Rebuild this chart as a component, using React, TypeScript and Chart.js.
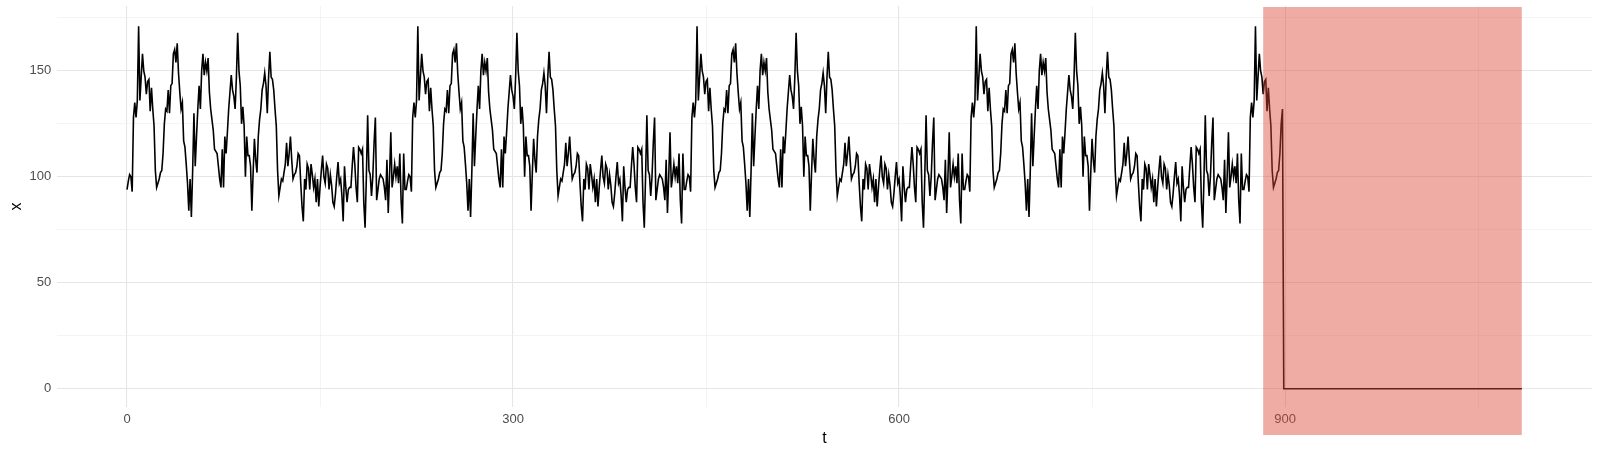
import React, { useEffect, useRef } from 'react';
import { Chart, registerables } from 'chart.js';

Chart.register(...registerables);

// One repeating cycle of the series x(t) (period 217)
const cycle: number[] = [
  94, 98, 101, 100, 93, 128, 135, 128, 136, 171,
  136, 147, 158, 150, 147, 139, 145, 146, 131, 142,
  132, 124, 103, 95, 97, 99, 102, 103, 111, 125,
  132, 131, 141, 130, 143, 144, 158, 160, 154, 163,
  149, 140, 132, 135, 117, 114, 106, 97, 84, 99,
  81, 103, 130, 105, 119, 132, 143, 132, 150, 158,
  148, 154, 150, 156, 140, 132, 127, 122, 113, 112,
  111, 105, 99, 95, 113, 95, 119, 111, 121, 132,
  140, 148, 141, 138, 132, 147, 168, 150, 143, 125,
  133, 124, 100, 119, 110, 110, 105, 84, 102, 118,
  108, 102, 119, 127, 132, 141, 144, 149, 143, 130,
  147, 159,
  147, 146, 141, 132, 124, 103, 91, 95, 99, 98,
  102, 106, 116, 105, 111, 119, 108, 99, 101, 102,
  105, 111, 110,
  97, 86, 79, 99, 94, 106, 104, 94, 106, 101,
  95, 99, 88, 99, 86, 95, 103, 110, 100, 97,
  106, 104, 94, 101, 96, 88, 86, 92, 100, 107,
  97, 99, 91, 79, 105, 95, 88, 94, 95, 95,
  105, 114, 106, 95, 88, 114, 113, 111, 113, 88,
  76, 100, 129, 103, 101, 91, 100, 116, 128, 89,
  94, 99, 101, 100, 99, 95, 89, 108, 83, 100,
  121, 95, 100, 106, 100, 105, 97, 111, 89, 78,
  111, 94,
];
const fullCycles = 4;
const partialCycleLength = 31; // t = 868 .. 898
const zeroTail: number[] = new Array(186).fill(0); // t = 899 .. 1084, flat at 0

const anomalyStart = 883;
const anomalyEnd = 1084;

const xGridValues = [0, 150, 300, 450, 600, 750, 900, 1050];
const xLabelValues = [0, 300, 600, 900];
const yGridValues = [0, 25, 50, 75, 100, 125, 150, 175];
const yLabelValues = [0, 50, 100, 150];
const xLimits = [-54.2, 1138.4];
const yLimits = [-8.6, 180.6];

const FONT = '"Liberation Sans", Arial, Helvetica, sans-serif';

function buildSeries() {
  const values: number[] = [];
  for (let c = 0; c < fullCycles; c++) values.push(...cycle);
  values.push(...cycle.slice(0, partialCycleLength));
  values.push(...zeroTail);
  return values.map((v, i) => ({ x: i, y: v }));
}

const anomalyPlugin = {
  id: 'anomalyRect',
  afterDraw(chart: any) {
    const { ctx, chartArea, scales } = chart;
    const x0 = scales.x.getPixelForValue(anomalyStart);
    const x1 = scales.x.getPixelForValue(anomalyEnd);
    const top = chartArea.top + 1;
    const bottom = chartArea.bottom + 28;
    ctx.save();
    ctx.fillStyle = 'rgba(220, 71, 56, 0.45)';
    ctx.fillRect(x0, top, x1 - x0, bottom - top);
    ctx.restore();
  },
};

export default function App() {
  const ref = useRef<HTMLCanvasElement | null>(null);

  useEffect(() => {
    document.body.style.margin = '0';
    const canvas = ref.current;
    if (!canvas) return;
    const gridColor = (isMajor: boolean) => (isMajor ? '#e6e6e6' : '#ededed');
    const chart = new Chart(canvas, {
      type: 'line',
      data: {
        datasets: [
          {
            data: buildSeries(),
            borderColor: '#000000',
            borderWidth: 1.6,
            pointRadius: 0,
            tension: 0,
            fill: false,
          },
        ],
      },
      options: {
        animation: false,
        responsive: false,
        events: [],
        layout: { padding: { left: 0, right: 8.2, top: 6, bottom: 0 } },
        plugins: {
          legend: { display: false },
          tooltip: { enabled: false },
        },
        scales: {
          x: {
            type: 'linear',
            min: xLimits[0],
            max: xLimits[1],
            afterBuildTicks: (scale: any) => {
              scale.ticks = xGridValues.map((v) => ({ value: v }));
            },
            afterFit: (scale: any) => {
              scale.height = 48;
              scale.paddingLeft = 0;
              scale.paddingRight = 0;
            },
            border: { display: false },
            grid: {
              drawTicks: false,
              color: (c: any) => gridColor(xLabelValues.includes(c.tick?.value)),
              lineWidth: (c: any) => (xLabelValues.includes(c.tick?.value) ? 1.1 : 0.6),
            },
            ticks: {
              autoSkip: false,
              maxRotation: 0,
              padding: 5,
              color: '#4d4d4d',
              font: { family: FONT, size: 13 },
              callback: (v: any) => (xLabelValues.includes(Number(v)) ? String(v) : ''),
            },
            title: {
              display: true,
              text: 't',
              color: '#000000',
              font: { family: FONT, size: 16 },
              padding: { top: 0, bottom: 7 },
            },
          },
          y: {
            type: 'linear',
            min: yLimits[0],
            max: yLimits[1],
            afterBuildTicks: (scale: any) => {
              scale.ticks = yGridValues.map((v) => ({ value: v }));
            },
            afterFit: (scale: any) => {
              scale.width = 57.3;
              scale.paddingTop = 0;
              scale.paddingBottom = 0;
            },
            border: { display: false },
            grid: {
              drawTicks: false,
              color: (c: any) => gridColor(yLabelValues.includes(c.tick?.value)),
              lineWidth: (c: any) => (yLabelValues.includes(c.tick?.value) ? 1.1 : 0.6),
            },
            ticks: {
              autoSkip: false,
              padding: 6,
              color: '#4d4d4d',
              font: { family: FONT, size: 13 },
              callback: (v: any) => (yLabelValues.includes(Number(v)) ? String(v) : ''),
            },
            title: {
              display: true,
              text: 'x',
              color: '#000000',
              font: { family: FONT, size: 16 },
              padding: { top: 7, bottom: 0 },
            },
          },
        },
      },
      plugins: [anomalyPlugin],
    });
    return () => chart.destroy();
  }, []);

  return (
    <div style={{ width: 1600, height: 455 }}>
      <canvas ref={ref} width={1600} height={455} style={{ display: 'block' }} />
    </div>
  );
}
